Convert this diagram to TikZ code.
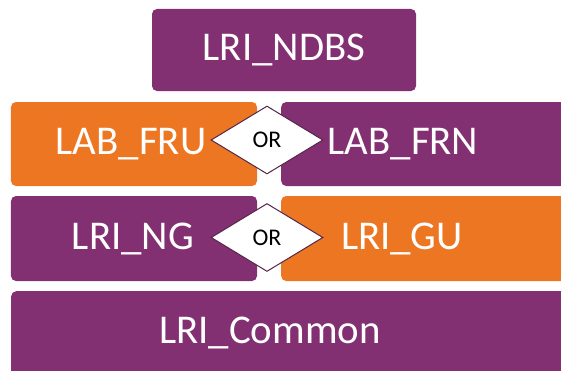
\documentclass[tikz,border=0pt]{standalone}
\usepackage{fontspec}
\setmainfont{Carlito}
\usetikzlibrary{shapes.geometric}
\definecolor{plum}{RGB}{131,48,114}
\definecolor{tangerine}{RGB}{237,118,35}
\definecolor{ordark}{RGB}{84,38,74}
\tikzset{
block/.style = {rectangle, rounded corners=5bp, fill=#1, text=white,
                inner sep=0pt, font=\fontsize{41}{50}\selectfont},
block/.default = plum, % most layers are purple
lbl/.style = {text=white, inner sep=0pt, font=\fontsize{41}{50}\selectfont},
choice/.style = {diamond, draw=ordark, line width=1bp, fill=white,
                 aspect=1.65, minimum width=112bp, minimum height=68bp,
                 inner sep=0pt, font=\fontsize{24}{28}\selectfont}
}

\begin{document}
\begin{tikzpicture}[x=1bp,y=1bp]
        \useasboundingbox (0,0) rectangle (561,370);
        % top layer
        \node[block, minimum width=264bp, minimum height=82bp] (ndbs) at (284,320) {LRI\_NDBS};
        % FRU or FRN
        \node[block=tangerine, minimum width=246bp, minimum height=84bp] (fru) at (134,226) {};
        \node[lbl] (frulabel) at (131,226) {LAB\_FRU};
        \node[block, anchor=west, minimum width=300bp, minimum height=84bp] (frn) at (281,226) {};
        \node[lbl] (frnlabel) at (403,226) {LAB\_FRN};
        \node[choice] (or1) at (267,230) {OR};
        % NG or GU
        \node[block, minimum width=246bp, minimum height=85bp] (ng) at (134,131.5) {};
        \node[lbl] (nglabel) at (133,131.5) {LRI\_NG};
        \node[block=tangerine, anchor=west, minimum width=300bp, minimum height=85bp] (gu) at (281,131.5) {};
        \node[lbl] (gulabel) at (402,131.5) {LRI\_GU};
        \node[choice] (or2) at (267,132.5) {OR};
        % bottom layer, runs past the page edge
        \node[block, anchor=north west, minimum width=600bp, minimum height=100bp] (common) at (11,79) {};
        \node[lbl] (commonlabel) at (270,37) {LRI\_Common};
\end{tikzpicture}
\end{document}
